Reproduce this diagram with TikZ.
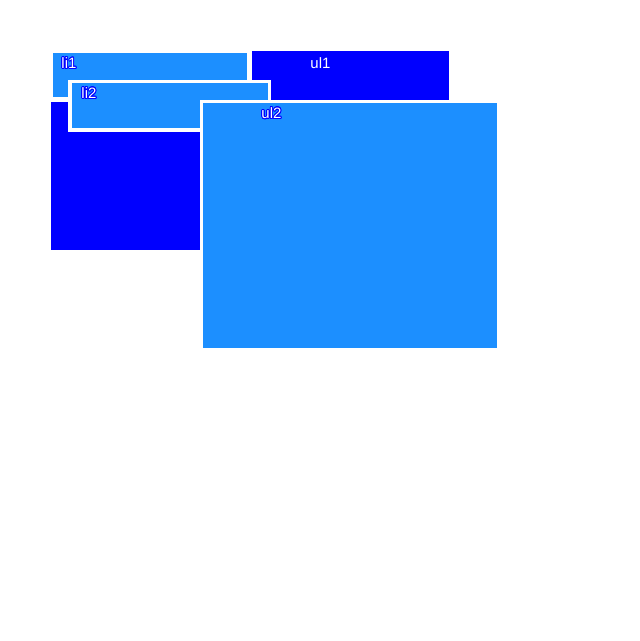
\documentclass[tikz,border=0pt]{standalone}
\usepackage{fontspec}
\setmainfont{Liberation Sans}
\usepackage{contour}
\contourlength{0.9pt}
\definecolor{dodger}{RGB}{28,143,255}

\tikzset{
  tag/.style={font=\fontsize{15}{17}\selectfont, text=white, inner sep=0pt},
  item/.style={fill=dodger, draw=white},
}

\begin{document}
\begin{tikzpicture}[x=1pt, y=-1pt]

  \useasboundingbox[fill=white] (0,0) rectangle (640,641);

  % outer list
  \fill[blue] (51,51) rectangle (449,250);
  \node[tag] (ul1) at (320.5,63.5) {ul1};

  % items of the list
  \draw[item, line width=5pt] (50,50.5) rectangle (249.5,99.5);
  \node[tag] (li1) at (69,63.5) {\contour{blue}{li1}};

  \draw[item, line width=3.5pt] (70,81.5) rectangle (269.5,130);
  \node[tag] (li2) at (89,93.5) {\contour{blue}{li2}};

  % inner list
  \draw[item, line width=3pt] (201.5,101.5) rectangle (498,349);
  \node[tag] (ul2) at (271.5,113.5) {\contour{blue}{ul2}};

\end{tikzpicture}
\end{document}
